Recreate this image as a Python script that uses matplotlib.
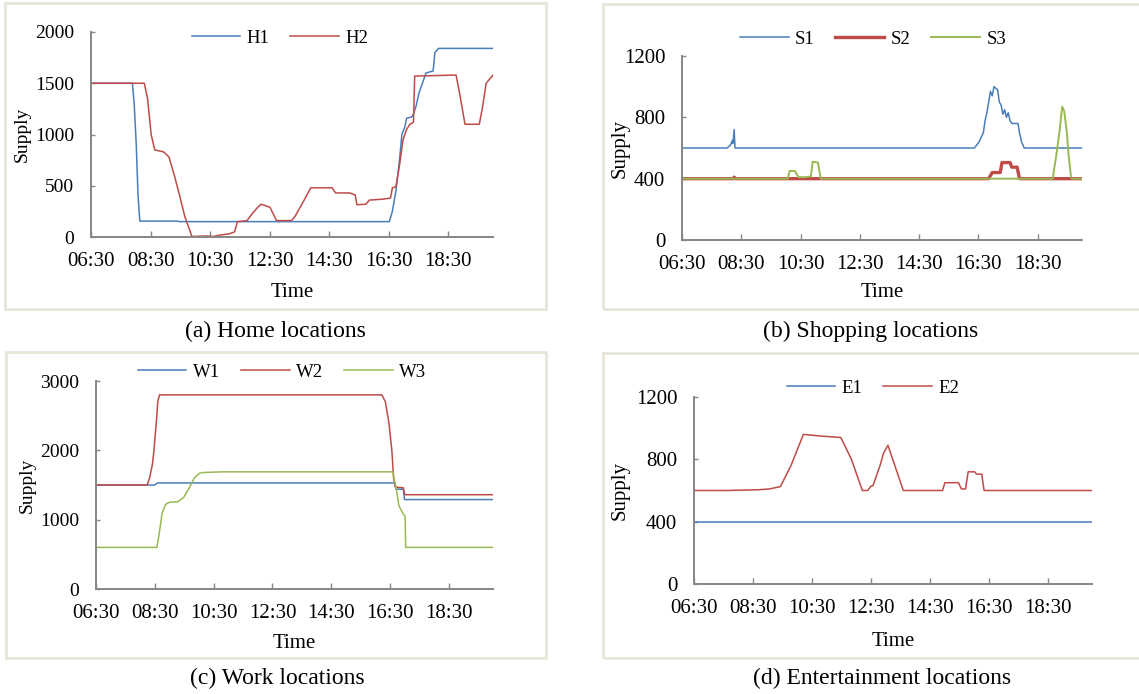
import matplotlib
matplotlib.use("Agg")
import matplotlib.pyplot as plt
from matplotlib.patches import Rectangle

# ---------------- data (hours elapsed since 06:30) ----------------
tick_hours = [0, 2, 4, 6, 8, 10, 12]
tick_labels = ["06:30", "08:30", "10:30", "12:30", "14:30", "16:30", "18:30"]
t_end = 13.5

# (a) Home locations
h1_t = [0, 1.39, 1.45, 1.52, 1.58, 1.64, 2.92, 2.95, 10.02, 10.12, 10.24, 10.36, 10.44,
        10.54, 10.60, 10.77, 10.83, 10.92, 11.01, 11.13, 11.25, 11.49, 11.55, 11.67, 13.5]
h1_v = [1500, 1500, 1300, 900, 400, 155, 155, 150, 150, 250, 450, 750, 1000,
        1075, 1160, 1170, 1200, 1280, 1400, 1500, 1600, 1620, 1800, 1840, 1840]
h2_t = [0, 1.79, 1.90, 2.02, 2.14, 2.44, 2.62, 2.80, 2.98, 3.15, 3.39, 3.87, 4.11, 4.35,
        4.64, 4.82, 4.92, 5.24, 5.42, 5.60, 5.71, 6.01, 6.23, 6.73, 6.85, 7.14, 7.38,
        8.10, 8.21, 8.69, 8.87, 8.93, 9.23, 9.35, 9.82, 10.06, 10.12, 10.24, 10.36,
        10.48, 10.60, 10.71, 10.83, 10.87, 12.26, 12.38, 12.56, 13.04, 13.15, 13.27, 13.5]
h2_v = [1500, 1500, 1350, 1000, 850, 830, 780, 600, 400, 200, 5, 10, 5, 20,
        30, 50, 150, 160, 230, 290, 320, 290, 160, 160, 200, 350, 480,
        480, 430, 430, 410, 315, 320, 360, 370, 380, 480, 490, 700,
        950, 1050, 1100, 1120, 1570, 1580, 1400, 1100, 1100, 1270, 1500, 1580]

# (b) Shopping locations
s1_t = [0, 1.52, 1.64, 1.70, 1.72, 1.76, 1.79, 9.87, 9.99, 10.05, 10.17, 10.23, 10.29,
        10.35, 10.41, 10.47, 10.53, 10.65, 10.71, 10.77, 10.83, 10.89, 10.95, 11.01,
        11.07, 11.13, 11.34, 11.39, 11.46, 11.55, 13.5]
s1_v = [600, 600, 620, 650, 630, 720, 600, 600, 630, 650, 700, 780, 830,
        900, 970, 940, 1000, 980, 900, 880, 820, 850, 800, 830,
        780, 760, 760, 700, 640, 600, 600]
s2_t = [0, 1.74, 1.76, 1.80, 10.35, 10.41, 10.47, 10.74, 10.80, 11.07, 11.13, 11.31, 11.39, 13.5]
s2_v = [400, 400, 410, 400, 400, 420, 440, 440, 505, 505, 475, 475, 400, 400]
s3_t = [0, 3.57, 3.63, 3.81, 3.93, 4.17, 4.35, 4.41, 4.59, 4.68, 12.51, 12.63, 12.75,
        12.83, 12.90, 12.99, 13.05, 13.13, 13.17, 13.5]
s3_v = [400, 400, 450, 450, 410, 410, 415, 510, 505, 400, 400, 550, 720,
        870, 840, 700, 550, 410, 400, 400]

# (c) Work locations
w1_t = [0, 2.00, 2.09, 10.15, 10.21, 10.45, 10.49, 13.5]
w1_v = [1500, 1500, 1530, 1530, 1440, 1440, 1290, 1290]
w2_t = [0, 1.74, 1.82, 1.92, 1.97, 2.07, 2.10, 2.16, 9.72, 9.84, 9.96, 10.06, 10.12,
        10.18, 10.45, 10.50, 13.5]
w2_v = [1500, 1500, 1600, 1800, 2000, 2500, 2700, 2800, 2800, 2700, 2400, 2000, 1600,
        1470, 1460, 1360, 1360]
w3_t = [0, 2.07, 2.15, 2.25, 2.37, 2.49, 2.79, 2.98, 3.16, 3.34, 3.52, 3.65, 4.31,
        10.09, 10.21, 10.30, 10.45, 10.51, 10.53, 13.5]
w3_v = [600, 600, 800, 1100, 1220, 1250, 1260, 1320, 1450, 1600, 1670, 1680, 1690,
        1690, 1450, 1200, 1080, 1050, 600, 600]

# (d) Entertainment locations
e1_t = [0, 13.5]
e1_v = [400, 400]
e2_t = [0, 1.11, 2.20, 2.56, 2.93, 3.29, 3.71, 4.26, 4.98, 5.34, 5.71, 5.89, 6.01, 6.07,
        6.31, 6.43, 6.58, 6.74, 7.10, 8.43, 8.51, 8.97, 9.07, 9.21, 9.30, 9.52, 9.58,
        9.76, 9.84, 13.5]
e2_v = [600, 600, 605, 610, 625, 760, 960, 950, 940, 800, 600, 600, 630, 630,
        760, 840, 890, 800, 600, 600, 650, 650, 610, 610, 720, 720, 705,
        705, 600, 600]

# ---------------- style ----------------
BLUE = "#4A7EBB"
RED = "#BE4B48"
GREEN = "#98B954"
AXC = "#868686"
BOXC = "#E8E5D8"
plt.rcParams["font.family"] = ["Liberation Serif", "DejaVu Serif"]

W, H = 1139, 694
fig = plt.figure(figsize=(W / 100, H / 100), dpi=100)
fig.patch.set_facecolor("white")


def px_box(x0, y0, x1, y1):
    return Rectangle((x0 / W, 1 - y1 / H), (x1 - x0) / W, (y1 - y0) / H,
                     transform=fig.transFigure, fill=False, edgecolor=BOXC,
                     linewidth=2.0, zorder=0)


for b in [(5, 3, 546, 309), (603, 4, 1145, 309), (6, 352, 546, 658), (603, 353, 1145, 658)]:
    fig.patches.append(px_box(*b))


def setup(ax, ymax, ystep, ytick_fs, ylab_fs, ylab_x, xlab_y):
    ax.set_xlim(0, t_end)
    ax.set_ylim(0, ymax)
    ax.set_xticks(tick_hours)
    ax.set_xticklabels(tick_labels)
    ax.set_yticks(list(range(0, ymax + 1, ystep)))
    for s in ["top", "right"]:
        ax.spines[s].set_visible(False)
    for s in ["left", "bottom"]:
        ax.spines[s].set_color(AXC)
        ax.spines[s].set_linewidth(1.4)
    ax.tick_params(axis="both", direction="in", length=4.5, width=1.0, color=AXC)
    ax.tick_params(axis="x", labelsize=15, pad=11)
    ax.tick_params(axis="y", labelsize=ytick_fs, pad=12, length=3)
    ax.set_xlabel("Time", fontsize=15)
    ax.xaxis.set_label_coords(0.5, xlab_y)
    ax.xaxis.label.set_verticalalignment("center")
    ax.set_ylabel("Supply", fontsize=ylab_fs)
    ax.yaxis.set_label_coords(ylab_x, 0.5)
    ax.yaxis.label.set_verticalalignment("center")
    ax.patch.set_alpha(0)


def legend(ax, cx, cy, n):
    ax.legend(loc="center", bbox_to_anchor=(cx, cy), bbox_transform=fig.transFigure,
              ncol=n, frameon=False, fontsize=13.5, handlelength=2.6,
              handletextpad=0.35, columnspacing=1.1)


# (a)
ax = fig.add_axes([91 / W, 1 - 237 / H, 402 / W, 205 / H])
ax.plot(h1_t, h1_v, color=BLUE, lw=1.1, label="H1")
ax.plot(h2_t, h2_v, color=RED, lw=1.1, label="H2")
setup(ax, 2000, 500, 14, 14, -0.172, -0.273)
legend(ax, 280 / W, 1 - 38 / H, 2)

# (b)
ax = fig.add_axes([682 / W, 1 - 240 / H, 400 / W, 184 / H])
ax.plot(s1_t, s1_v, color=BLUE, lw=1.1, label="S1")
ax.plot(s2_t, s2_v, color=RED, lw=2.4, label="S2")
ax.plot(s3_t, s3_v, color=GREEN, lw=1.4, label="S3")
setup(ax, 1200, 400, 15, 15, -0.155, -0.288)
legend(ax, 873 / W, 1 - 39 / H, 3)

# (c)
ax = fig.add_axes([96 / W, 1 - 589 / H, 397 / W, 208 / H])
ax.plot(w1_t, w1_v, color=BLUE, lw=1.1, label="W1")
ax.plot(w2_t, w2_v, color=RED, lw=1.1, label="W2")
ax.plot(w3_t, w3_v, color=GREEN, lw=1.1, label="W3")
setup(ax, 3000, 1000, 14, 14, -0.174, -0.26)
legend(ax, 282 / W, 1 - 372 / H, 3)

# (d)
ax = fig.add_axes([694 / W, 1 - 584 / H, 398 / W, 187 / H])
ax.plot(e1_t, e1_v, color=BLUE, lw=1.1, label="E1")
ax.plot(e2_t, e2_v, color=RED, lw=1.1, label="E2")
setup(ax, 1200, 400, 15, 15, -0.186, -0.305)
legend(ax, 873 / W, 1 - 388 / H, 2)

# captions
fig.text(275 / W, 1 - 331 / H, "(a) Home locations", ha="center", va="center", fontsize=17)
fig.text(871 / W, 1 - 331 / H, "(b) Shopping locations", ha="center", va="center", fontsize=17)
fig.text(277 / W, 1 - 678 / H, "(c) Work locations", ha="center", va="center", fontsize=17)
fig.text(882 / W, 1 - 678 / H, "(d) Entertainment locations", ha="center", va="center", fontsize=17)

fig.savefig("out.png", dpi=100)
